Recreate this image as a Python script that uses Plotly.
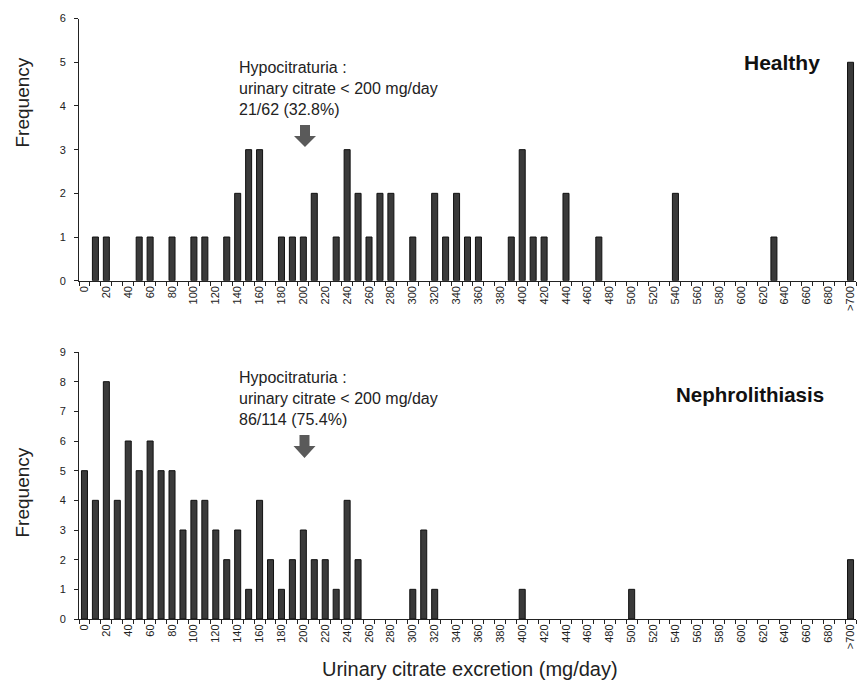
import plotly.graph_objects as go

# Categories: 10 mg/day bins 0..690 plus ">700"
categories = [str(v) for v in range(0, 700, 10)] + [">700"]
tick_labels = [c if i % 2 == 0 else "" for i, c in enumerate(categories)]

# Healthy group: bin -> frequency
healthy_bins = ["10", "20", "50", "60", "80", "100", "110", "130", "140", "150", "160",
                "180", "190", "200", "210", "230", "240", "250", "260", "270", "280",
                "300", "320", "330", "340", "350", "360", "390", "400", "410", "420",
                "440", "470", "540", "630", ">700"]
healthy_freq = [1, 1, 1, 1, 1, 1, 1, 1, 2, 3, 3,
                1, 1, 1, 2, 1, 3, 2, 1, 2, 2,
                1, 2, 1, 2, 1, 1, 1, 3, 1, 1,
                2, 1, 2, 1, 5]

# Nephrolithiasis group
stone_bins = ["0", "10", "20", "30", "40", "50", "60", "70", "80", "90", "100", "110",
              "120", "130", "140", "150", "160", "170", "180", "190", "200", "210",
              "220", "230", "240", "250", "300", "310", "320", "400", "500", ">700"]
stone_freq = [5, 4, 8, 4, 6, 5, 6, 5, 5, 3, 4, 4,
              3, 2, 3, 1, 4, 2, 1, 2, 3, 2,
              2, 1, 4, 2, 1, 3, 1, 1, 1, 2]

# geometry helpers (pixel -> paper)
L, R, T, B, W, H = 79, 3, 18, 68, 859, 687
PW, PH = W - L - R, H - T - B
def px(x):
    return (x - L) / PW
def py(y):
    return (H - B - y) / PH

fig = go.Figure()
bar_style = dict(marker=dict(color="#3a3a3a", line=dict(color="#111111", width=1)),
                 showlegend=False, hoverinfo="x+y")
fig.add_trace(go.Bar(x=healthy_bins, y=healthy_freq, xaxis="x", yaxis="y", **bar_style))
fig.add_trace(go.Bar(x=stone_bins, y=stone_freq, xaxis="x2", yaxis="y2", **bar_style))

font_family = "Liberation Sans, Arial, sans-serif"
xcommon = dict(type="category", categoryorder="array", categoryarray=categories,
               tickmode="array", tickvals=categories, ticktext=tick_labels,
               tickangle=-90, tickfont=dict(size=11, color="#222", family=font_family),
               ticks="outside", ticklen=4, tickcolor="#222", tickson="boundaries",
               showline=True, linecolor="#222", linewidth=1, showgrid=False,
               range=[-0.5, len(categories) - 0.5], zeroline=False)
ycommon = dict(ticks="outside", ticklen=4, tickcolor="#222", showline=True,
               linecolor="#222", linewidth=1, showgrid=False, zeroline=False,
               dtick=1, ticklabelstandoff=6,
               tickfont=dict(size=11, color="#222", family=font_family))

top_dom = [py(280.7), min(1.0, py(18.6))]
bot_dom = [max(0.0, py(619)), py(352)]

fig.update_layout(
    width=W, height=H,
    margin=dict(l=L, r=R, t=T, b=B),
    paper_bgcolor="white", plot_bgcolor="white",
    bargap=0.45,
    font=dict(family=font_family, color="#222"),
    xaxis=dict(anchor="y", domain=[0, 1], **xcommon),
    yaxis=dict(anchor="x", domain=top_dom, range=[0, 6], **ycommon),
    xaxis2=dict(anchor="y2", domain=[0, 1], **xcommon),
    yaxis2=dict(anchor="x2", domain=bot_dom, range=[0, 9], **ycommon),
)

ann = []
ann.append(dict(text="Frequency", x=px(22), y=(py(57) + py(148)) / 2, xref="paper", yref="paper",
                xanchor="center", yanchor="middle",
                textangle=-90, showarrow=False, font=dict(size=19, color="#222")))
ann.append(dict(text="Frequency", x=px(22), y=(py(447) + py(538)) / 2, xref="paper", yref="paper",
                xanchor="center", yanchor="middle",
                textangle=-90, showarrow=False, font=dict(size=19, color="#222")))
ann.append(dict(text="Urinary citrate excretion (mg/day)", x=px(470), y=py(669),
                xref="paper", yref="paper", xanchor="center", yanchor="middle",
                showarrow=False, font=dict(size=20, color="#222")))
ann.append(dict(text="Hypocitraturia :<br>urinary citrate &lt; 200 mg/day<br>21/62 (32.8%)",
                x=px(237), y=py(88), xref="paper", yref="paper", xanchor="left", yanchor="middle",
                align="left", showarrow=False, font=dict(size=16, color="#222")))
ann.append(dict(text="Hypocitraturia :<br>urinary citrate &lt; 200 mg/day<br>86/114 (75.4%)",
                x=px(237), y=py(398), xref="paper", yref="paper", xanchor="left", yanchor="middle",
                align="left", showarrow=False, font=dict(size=16, color="#222")))
ann.append(dict(text="<b>Healthy</b>", x=px(822), y=py(62), xref="paper", yref="paper",
                xanchor="right", yanchor="middle", showarrow=False, font=dict(size=21, color="#111")))
ann.append(dict(text="<b>Nephrolithiasis</b>", x=px(826), y=py(394), xref="paper", yref="paper",
                xanchor="right", yanchor="middle", showarrow=False, font=dict(size=20.5, color="#111")))
fig.update_layout(annotations=ann)

def arrow_path(cx, top, mid, bot, sw=5, hw=11):
    pts = [(cx - sw, top), (cx + sw, top), (cx + sw, mid), (cx + hw, mid), (cx, bot),
           (cx - hw, mid), (cx - sw, mid)]
    return "M " + " L ".join(f"{px(x):.5f},{py(y):.5f}" for x, y in pts) + " Z"

shapes = [
    dict(type="path", xref="paper", yref="paper", path=arrow_path(305, 125, 136, 147),
         fillcolor="#5a5a5a", line=dict(width=0)),
    dict(type="path", xref="paper", yref="paper", path=arrow_path(304.5, 435, 446, 458),
         fillcolor="#5a5a5a", line=dict(width=0)),
]
fig.update_layout(shapes=shapes)

fig.write_html("out.html")
